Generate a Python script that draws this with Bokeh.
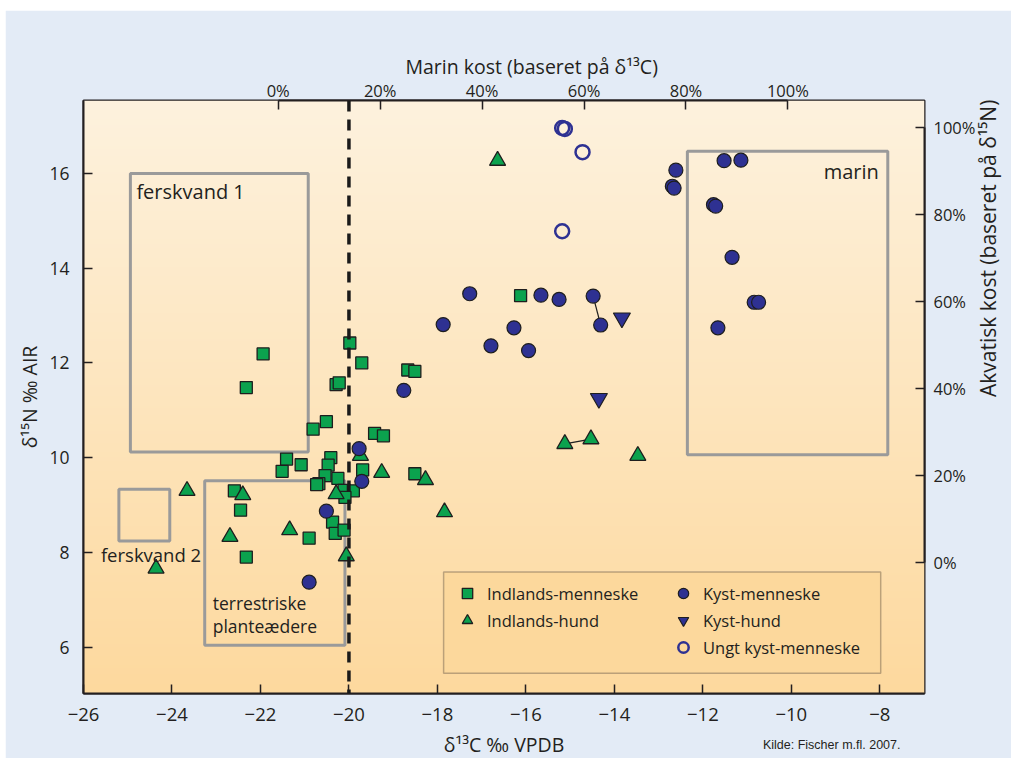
import numpy as np
from bokeh.plotting import figure
from bokeh.models import (Range1d, LinearAxis, Span, Label, Legend, LegendItem, Title,
                          BoxAnnotation, FixedTicker, PrintfTickFormatter)
from bokeh.embed import file_html
from bokeh.resources import INLINE

# ---------------- data ----------------
inl_men_x = [-19.98, -21.94, -19.71, -20.29, -20.22, -22.32, -20.51, -20.81, -19.42, -19.22,
             -21.41, -20.41, -20.47, -21.08, -21.51, -19.69, -20.25, -20.54, -20.68, -20.73,
             -20.11, -19.90, -20.09, -22.59, -22.45, -20.37, -20.31, -20.11, -20.90, -22.32,
             -16.12, -18.67, -18.51, -18.51]
inl_men_y = [12.42, 12.19, 12.00, 11.54, 11.58, 11.48, 10.76, 10.60, 10.51, 10.46,
             9.97, 10.00, 9.84, 9.85, 9.71, 9.74, 9.56, 9.62, 9.45, 9.43,
             9.31, 9.30, 9.16, 9.30, 8.89, 8.64, 8.40, 8.47, 8.30, 7.90,
             13.42, 11.85, 11.82, 9.66]

inl_hund_x = [-23.66, -22.40, -22.69, -21.34, -24.36, -20.06, -20.29, -19.26, -19.74,
              -18.27, -17.84, -16.64, -15.12, -14.53, -13.47]
inl_hund_y = [9.30, 9.21, 8.33, 8.47, 7.66, 7.92, 9.23, 9.68, 10.04,
              9.53, 8.85, 16.27, 10.29, 10.39, 10.04]

kyst_men_x = [-18.76, -19.77, -19.71, -20.51, -20.90, -17.27, -17.87, -16.27, -16.79, -15.94,
              -15.66, -15.25, -14.48, -14.31, -12.61, -12.69, -12.65, -11.52, -11.14, -11.76,
              -11.71, -11.34, -10.84, -10.74, -11.66]
kyst_men_y = [11.42, 10.19, 9.50, 8.87, 7.37, 13.46, 12.81, 12.74, 12.36, 12.26,
              13.43, 13.34, 13.41, 12.80, 16.07, 15.73, 15.69, 16.27, 16.28, 15.34,
              15.31, 14.23, 13.28, 13.28, 12.74]

kyst_hund_x = [-13.83, -14.35]
kyst_hund_y = [12.95, 11.25]

ungt_x = [-15.18, -15.12, -14.72, -15.18]
ungt_y = [16.96, 16.94, 16.45, 14.78]

# pairs of linked samples (indices)
hund_links = [(12, 13)]
kyst_links = [(12, 13)]

# regions
region_names = ["ferskvand 1", "ferskvand 2", "terrestriske\nplanteædere", "marin"]
region_left = [-24.94, -25.20, -23.26, -12.35]
region_right = [-20.92, -24.05, -20.09, -7.82]
region_top = [16.00, 9.33, 9.51, 16.47]
region_bottom = [10.12, 8.24, 6.04, 10.06]

x_ticks = [-26, -24, -22, -20, -18, -16, -14, -12, -10, -8]
y_ticks = [6, 8, 10, 12, 14, 16]
pct_ticks = [0, 20, 40, 60, 80, 100]
threshold_x = -20

x_start, x_end = -26.0, -6.99
y_start, y_end = 5.02, 17.54
marin_start, marin_end = -38.2, 126.8
akv_start, akv_end = -30.1, 106.2

FONT = "Open Sans"
TXT = "#231F20"
GREEN = "#0BA24E"
NAVY = "#2E3192"
EDGE = "#1E1E1E"

p = figure(frame_width=841, frame_height=593,
           x_range=Range1d(x_start, x_end), y_range=Range1d(y_start, y_end),
           output_backend="svg", toolbar_location=None,
           min_border_left=78, min_border_right=87, min_border_top=90, min_border_bottom=65,
           border_fill_color="#E3EBF6", background_fill_color="#FEE6BC",
           outline_line_color=TXT, outline_line_width=2)
p.styles = {"margin-left": "5px", "margin-top": "10px"}
p.grid.visible = False

# gradient background
n = 256
t = np.linspace(0, 1, n)
top_c = np.array([254, 242, 222])
bot_c = np.array([253, 217, 158])
cols = (bot_c + (top_c - bot_c) * t[:, None]).astype(np.uint8)
img = np.zeros((n, 1), dtype=np.uint32)
view = img.view(dtype=np.uint8).reshape((n, 1, 4))
view[:, 0, 0] = cols[:, 0]
view[:, 0, 1] = cols[:, 1]
view[:, 0, 2] = cols[:, 2]
view[:, 0, 3] = 255
p.image_rgba(image=[img], x=x_start, y=y_start, dw=x_end - x_start, dh=y_end - y_start, level="image")

p.extra_x_ranges = {"marin": Range1d(marin_start, marin_end)}
p.extra_y_ranges = {"akv": Range1d(akv_start, akv_end)}


def style_axis(ax, size):
    ax.major_tick_in = 9
    ax.major_tick_out = 0
    ax.minor_tick_line_color = None
    ax.axis_line_color = TXT
    ax.axis_line_width = 2
    ax.major_tick_line_color = TXT
    ax.major_tick_line_width = 1.5
    ax.major_label_text_font = FONT
    ax.major_label_text_font_size = size
    ax.major_label_text_color = TXT
    ax.axis_label_text_font = FONT
    ax.axis_label_text_font_style = "normal"
    ax.axis_label_text_font_size = "19.5px"
    ax.axis_label_text_color = TXT


xa = p.xaxis[0]
xa.ticker = FixedTicker(ticks=x_ticks)
xa.axis_label = "δ¹³C ‰ VPDB"
style_axis(xa, "18.5px")
xa.major_label_standoff = 14
xa.axis_label_standoff = 7

ya = p.yaxis[0]
ya.ticker = FixedTicker(ticks=y_ticks)
ya.axis_label = "δ¹⁵N ‰ AIR"
style_axis(ya, "17.5px")
ya.major_label_standoff = 14
ya.axis_label_standoff = 3

top_ax = LinearAxis(x_range_name="marin", ticker=FixedTicker(ticks=pct_ticks),
                    formatter=PrintfTickFormatter(format="%d%%"), bounds=(0, 100))
style_axis(top_ax, "16.5px")
top_ax.major_label_standoff = -1
p.add_layout(top_ax, "above")

# title of the top (marine diet) scale, starting over the percent scale
p.add_layout(Title(text="Marin kost (baseret på δ¹³C)", align="left", offset=322,
                   vertical_align="bottom", standoff=-8, text_font=FONT,
                   text_font_size="19.5px", text_font_style="normal", text_color=TXT), "above")

right_ax = LinearAxis(y_range_name="akv", ticker=FixedTicker(ticks=pct_ticks),
                      formatter=PrintfTickFormatter(format="%d%%"), bounds=(0, 100),
                      axis_label="Akvatisk kost (baseret på δ¹⁵N)")
style_axis(right_ax, "16.5px")
right_ax.axis_label_text_font_size = "21px"
right_ax.major_label_standoff = 9
right_ax.axis_label_standoff = 10
try:
    right_ax.axis_label_orientation = np.pi / 2
except Exception:
    pass
p.add_layout(right_ax, "right")

# source note
p.add_layout(Title(text="Kilde: Fischer m.fl. 2007.", align="right", offset=24,
                   vertical_align="top", standoff=-46, text_font="Liberation Sans",
                   text_font_size="12.5px", text_font_style="normal", text_color=TXT), "below")

# region boxes
p.quad(left=region_left, right=region_right, top=region_top, bottom=region_bottom,
       fill_alpha=0, line_color="#9A9A9A", line_width=3)

p.add_layout(Label(x=region_left[0], y=region_top[0], x_offset=6, y_offset=-5,
                   text=region_names[0], text_align="left", text_baseline="top",
                   text_font=FONT, text_font_size="20px", text_color=TXT))
p.add_layout(Label(x=region_left[1], y=region_bottom[1], x_offset=-18, y_offset=-1,
                   text=region_names[1], text_align="left", text_baseline="top",
                   text_font=FONT, text_font_size="18.5px", text_color=TXT))
terr_lines = region_names[2].split("\n")
for i, line in enumerate(terr_lines):
    p.add_layout(Label(x=region_left[2], y=region_bottom[2], x_offset=8,
                       y_offset=7 + 23 * (len(terr_lines) - 1 - i),
                       text=line, text_align="left", text_baseline="bottom",
                       text_font=FONT, text_font_size="17.5px", text_color=TXT))
p.add_layout(Label(x=region_right[3], y=region_top[3], x_offset=-9, y_offset=-7,
                   text=region_names[3], text_align="right", text_baseline="top",
                   text_font=FONT, text_font_size="20px", text_color=TXT))

# dashed threshold
p.add_layout(Span(location=threshold_x, dimension="height", line_color="#1A1A1A",
                  line_width=3.5, line_dash="11 8"))

# links
p.segment(x0=[inl_hund_x[a] for a, b in hund_links], y0=[inl_hund_y[a] for a, b in hund_links],
          x1=[inl_hund_x[b] for a, b in hund_links], y1=[inl_hund_y[b] for a, b in hund_links],
          line_color=EDGE, line_width=1.2)
p.segment(x0=[kyst_men_x[a] for a, b in kyst_links], y0=[kyst_men_y[a] for a, b in kyst_links],
          x1=[kyst_men_x[b] for a, b in kyst_links], y1=[kyst_men_y[b] for a, b in kyst_links],
          line_color=EDGE, line_width=1.2)

# legend background box
p.add_layout(BoxAnnotation(left=-17.86, right=-7.98, top=7.585, bottom=5.45,
                           fill_color="#FCD89C", fill_alpha=1, line_color=TXT, line_width=1.5,
                           level="underlay"))

r_im = p.scatter(inl_men_x, inl_men_y, marker="square", size=12, fill_color=GREEN,
                 line_color=EDGE, line_width=1.3)
r_ih = p.scatter(inl_hund_x, inl_hund_y, marker="triangle", size=16, fill_color=GREEN,
                 line_color=EDGE, line_width=1.3)
r_km = p.scatter(kyst_men_x, kyst_men_y, marker="circle", size=14, fill_color=NAVY,
                 line_color=EDGE, line_width=1.2)
r_kh = p.scatter(kyst_hund_x, kyst_hund_y, marker="inverted_triangle", size=17, fill_color=NAVY,
                 line_color=EDGE, line_width=1.2)
r_u = p.scatter(ungt_x, ungt_y, marker="circle", size=14, fill_color=None,
                line_color=NAVY, line_width=2.5)


def make_legend(items, loc):
    lg = Legend(items=items, location=loc, orientation="vertical",
                glyph_width=26, glyph_height=26, label_height=24, spacing=1,
                padding=0, margin=0, label_standoff=7,
                background_fill_alpha=0, border_line_alpha=0,
                label_text_font=FONT, label_text_font_size="16.5px", label_text_color=TXT)
    p.add_layout(lg, "center")


make_legend([LegendItem(label="Indlands-menneske", renderers=[r_im]),
             LegendItem(label="Indlands-hund", renderers=[r_ih])], (371, 60))
make_legend([LegendItem(label="Kyst-menneske", renderers=[r_km]),
             LegendItem(label="Kyst-hund", renderers=[r_kh]),
             LegendItem(label="Ungt kyst-menneske", renderers=[r_u])], (587, 33))

open("out.html", "w").write(file_html(p, INLINE))
